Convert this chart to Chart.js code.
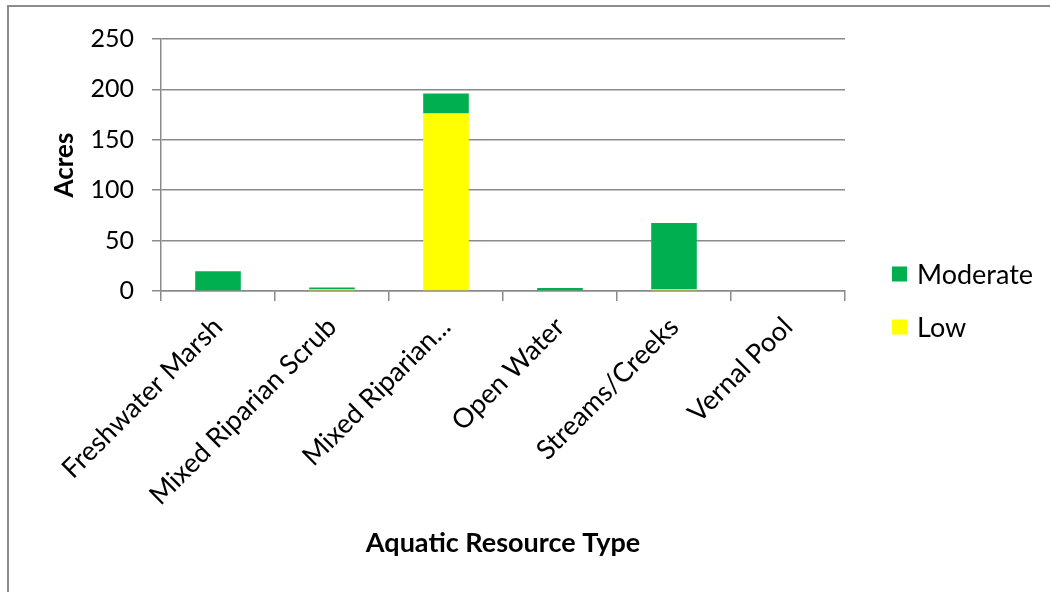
<!DOCTYPE html>
<html>
<head>
<meta charset="utf-8">
<script src="https://cdn.jsdelivr.net/npm/chart.js@4/dist/chart.umd.min.js"></script>
<style>
  html, body { margin: 0; padding: 0; background: #fff; }
  canvas { display: block; }
</style>
</head>
<body>
<canvas id="chart" width="1050" height="592"></canvas>
<script>
// Acreage of aquatic resources by condition rating
const categories = ['Freshwater Marsh', 'Mixed Riparian Scrub', 'Mixed Riparian...', 'Open Water', 'Streams/Creeks', 'Vernal Pool'];
const lowAcres = [0, 1.5, 176, 0, 1.5, 0];
const moderateAcres = [19.5, 2, 20, 3, 66, 0];
const yTicks = [0, 50, 100, 150, 200, 250];

const FONT = 'Lato, "Open Sans", sans-serif';
const GRID = '#8a8a8a';

// White background and the outer frame line along the top and left
const framePlugin = {
  id: 'frame',
  beforeDraw(chart) {
    const ctx = chart.ctx;
    ctx.save();
    ctx.fillStyle = '#fff';
    ctx.fillRect(0, 0, chart.width, chart.height);
    ctx.strokeStyle = '#8c8c8c';
    ctx.lineWidth = 2;
    ctx.beginPath();
    ctx.moveTo(8, chart.height);
    ctx.lineTo(8, 6);
    ctx.lineTo(chart.width, 6);
    ctx.stroke();
    ctx.restore();
  }
};

// Legend on the right, listing the series from top of stack downward
const sideLegend = {
  id: 'sideLegend',
  afterDraw(chart) {
    const ctx = chart.ctx;
    const items = chart.data.datasets.slice().reverse();
    ctx.save();
    ctx.font = '27px ' + FONT;
    ctx.textBaseline = 'middle';
    ctx.textAlign = 'left';
    items.forEach((ds, i) => {
      const cy = 274 + i * 53;
      ctx.fillStyle = ds.backgroundColor;
      ctx.fillRect(892, cy - 7.5, 15, 15);
      ctx.fillStyle = '#000';
      ctx.fillText(ds.label, 917, cy + 1);
    });
    ctx.restore();
  }
};

new Chart(document.getElementById('chart'), {
  type: 'bar',
  data: {
    labels: categories,
    datasets: [
      { label: 'Low', data: lowAcres, backgroundColor: '#FFFF00', borderWidth: 0 },
      { label: 'Moderate', data: moderateAcres, backgroundColor: '#00B050', borderWidth: 0 }
    ]
  },
  options: {
    responsive: false,
    animation: false,
    devicePixelRatio: 1,
    layout: { padding: { left: 10, top: 39, right: 205, bottom: 0 } },
    datasets: { bar: { categoryPercentage: 1.0, barPercentage: 0.4 } },
    plugins: {
      legend: { display: false },
      tooltip: { enabled: false }
    },
    scales: {
      x: {
        stacked: true,
        afterFit(scale) { scale.height = 301; },
        grid: {
          offset: true,
          drawOnChartArea: false,
          drawTicks: true,
          tickLength: 10,
          color: GRID,
          lineWidth: 1.5
        },
        border: { display: true, color: GRID, width: 1.5 },
        ticks: {
          autoSkip: false,
          maxRotation: 45,
          minRotation: 45,
          padding: 10,
          color: '#000',
          font: { family: FONT, size: 27 }
        },
        title: {
          display: true,
          text: 'Aquatic Resource Type',
          color: '#000',
          font: { family: FONT, size: 27, weight: 'bold' },
          padding: { top: 0, bottom: 33 }
        }
      },
      y: {
        stacked: true,
        min: 0,
        max: 250,
        afterFit(scale) { scale.width = 151; },
        afterBuildTicks(scale) { scale.ticks = yTicks.map(v => ({ value: v })); },
        grid: {
          color: GRID,
          lineWidth: 1.5,
          drawTicks: true,
          tickLength: 9
        },
        border: { display: true, color: GRID, width: 1.5 },
        ticks: {
          padding: 18,
          color: '#000',
          font: { family: FONT, size: 25 }
        },
        title: {
          display: true,
          text: 'Acres',
          color: '#000',
          font: { family: FONT, size: 26, weight: 'bold' },
          padding: { top: 39, bottom: 0 }
        }
      }
    }
  },
  plugins: [framePlugin, sideLegend]
});
</script>
</body>
</html>
